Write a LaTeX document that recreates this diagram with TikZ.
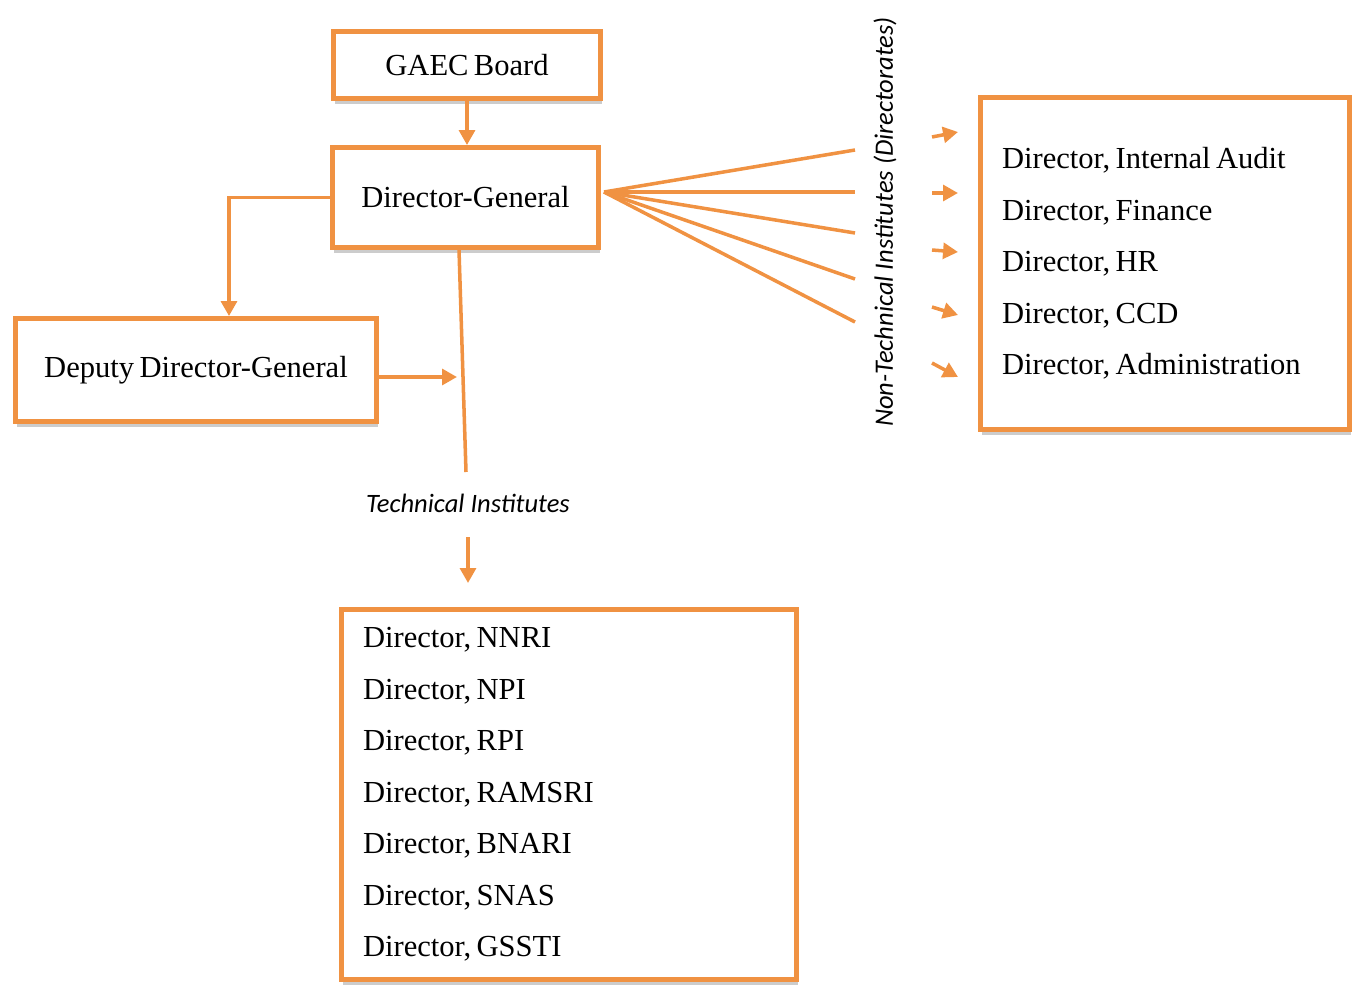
\documentclass[tikz,border=0pt]{standalone}
\usepackage{fontspec}
\setmainfont{Liberation Serif}[WordSpace=0.7]
\newfontfamily\labelfont{Carlito}
\usepackage{xcolor}
\usetikzlibrary{arrows.meta, positioning, shadows}
\definecolor{gaecorange}{RGB}{240,146,66}
\frenchspacing

\begin{document}
\begin{tikzpicture}[x=0.02cm, y=-0.02cm,
    office/.style={draw=gaecorange, line width=2.8pt, fill=white, inner sep=0pt,
      drop shadow={shadow xshift=1pt, shadow yshift=-3pt, opacity=0.4},
      font=\fontsize{17.4}{29.3}\selectfont},
    roster/.style={office, align=flush left, inner xsep=0.43cm},
    link/.style={draw=gaecorange, line width=2pt},
    arr/.style={link, -{Triangle[length=8.5pt, width=9pt]}},
    caption/.style={font=\labelfont\itshape\fontsize{15.1}{18}\selectfont}]

      \useasboundingbox (0,0) rectangle (1362,987);

      % Board and head office
      \node[office, minimum width=5.34cm, minimum height=1.34cm] (board) at (467,65) {GAEC Board};
      \node[office, minimum width=5.32cm, minimum height=2.0cm] (dg) at (465.5,197.5) {Director-General};
      \node[office, minimum width=7.22cm, minimum height=2.06cm] (ddg) at (196,370) {Deputy Director-General};
      \draw[arr] (board.south) -- (board.south |- dg.north);
      \draw[arr] (dg.west) -| ([xshift=0.66cm]ddg.north);

      % Technical institutes
      \coordinate (tj) at (457,377);
      \coordinate (techend) at (466,472);
      \draw[arr] (ddg.east |- tj) -- (tj);
      \draw[link] ([xshift=-0.13cm]dg.south) -- (techend);
      \node[caption] (techlbl) at (468,503) {Technical Institutes};
      \coordinate (td1) at (468,537);
      \coordinate (td2) at (468,583);
      \draw[arr] (td1) -- (td2);
      \node[roster, text width=8.24cm, minimum height=7.4cm] (tech) at (569,794.5)
        {Director, NNRI\\ Director, NPI\\ Director, RPI\\ Director, RAMSRI\\
         Director, BNARI\\ Director, SNAS\\ Director, GSSTI};

      % Non-technical institutes
      \coordinate (fan) at (604,192);
      \foreach \y in {150,192,233,279,322}
        \draw[link] (fan) -- (855,\y);
      \node[caption, rotate=90] (nontech) at (885,222) {Non-Technical Institutes (Directorates)};
      \foreach \ya/\yb in {137/132, 193/193, 250/252, 307/315, 363/377}
        \draw[arr] (932,\ya) -- (958,\yb);
      \node[roster, text width=6.52cm, minimum height=6.64cm] (dirs) at (1165,263.5)
        {Director, Internal Audit\\ Director, Finance\\ Director, HR\\ Director, CCD\\
         Director, Administration};
    \end{tikzpicture}
\end{document}
